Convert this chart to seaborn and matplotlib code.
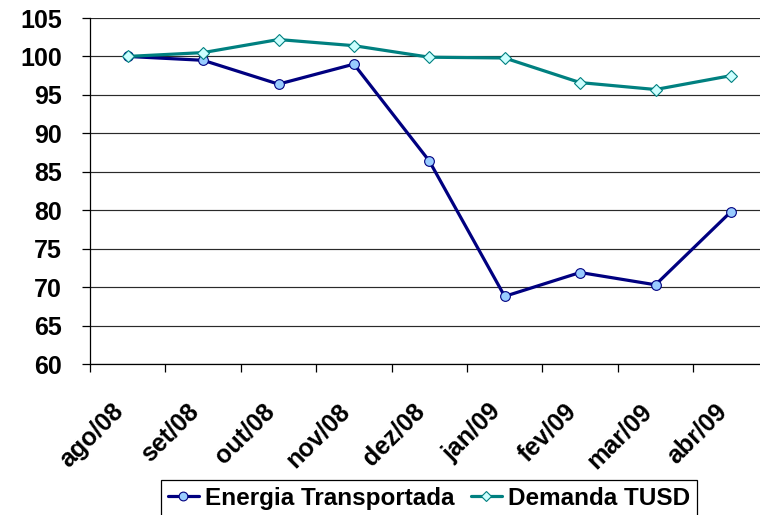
import matplotlib
matplotlib.use("Agg")
import matplotlib.pyplot as plt
import matplotlib.transforms as mtransforms
import numpy as np
import pandas as pd
import seaborn as sns

# ---- data ----
categories = ["ago/08", "set/08", "out/08", "nov/08", "dez/08",
              "jan/09", "fev/09", "mar/09", "abr/09"]
energia = [100.0, 99.5, 96.4, 99.0, 86.4, 68.8, 71.9, 70.3, 79.8]
demanda = [100.0, 100.5, 102.2, 101.4, 99.9, 99.8, 96.6, 95.7, 97.5]
series_names = ["Energia Transportada", "Demanda TUSD"]
yticks = [60, 65, 70, 75, 80, 85, 90, 95, 100, 105]

sns.set_theme(style="white")
plt.rcParams["font.family"] = ["Liberation Sans", "DejaVu Sans"]
plt.rcParams["font.weight"] = "bold"
plt.rcParams["text.color"] = "black"
plt.rcParams["xtick.color"] = "black"
plt.rcParams["ytick.color"] = "black"
plt.rcParams["xtick.labelcolor"] = "black"
plt.rcParams["ytick.labelcolor"] = "black"

W, H = 760, 515
fig = plt.figure(figsize=(W / 100, H / 100), dpi=100)
ax = fig.add_axes([90 / W, 1 - 364 / H, 678.6 / W, (364 - 18) / H])

pos = np.arange(len(categories))
df = pd.DataFrame({"pos": pos, "cat": categories,
                   series_names[0]: energia, series_names[1]: demanda})

sns.lineplot(data=df, x="pos", y=series_names[0], ax=ax, sort=False,
             color="#000080", linewidth=2.3, marker="o", markersize=7,
             markerfacecolor="#99CCFF", markeredgecolor="#000080",
             markeredgewidth=0.8, label=series_names[0], zorder=3)
sns.lineplot(data=df, x="pos", y=series_names[1], ax=ax, sort=False,
             color="#008080", linewidth=2.3, marker="D", markersize=6,
             markerfacecolor="#CCFFFF", markeredgecolor="#008080",
             markeredgewidth=0.8, label=series_names[1], zorder=4)

ax.set_xlim(-0.5, len(categories) - 0.5)
ax.set_ylim(yticks[0], yticks[-1])
ax.set_yticks(yticks)
ax.set_xlabel("")
ax.set_ylabel("")

# grid lines
ax.yaxis.grid(True, color="#2a2a2a", linewidth=0.85)
ax.xaxis.grid(False)
ax.set_axisbelow(True)

for s in ["top", "right"]:
    ax.spines[s].set_visible(False)
for s in ["left", "bottom"]:
    ax.spines[s].set_color("black")
    ax.spines[s].set_linewidth(0.9)

# x ticks: marks at category boundaries, labels at centres
ax.set_xticks(pos)
ax.set_xticklabels(categories)
ax.set_xticks(np.arange(-0.5, len(categories), 1.0), minor=True)
ax.tick_params(axis="x", which="major", length=0, pad=31.5,
               labelsize=18, labelcolor="black")
ax.tick_params(axis="x", which="minor", length=6, width=0.9,
               color="black", direction="out", bottom=True)
ax.tick_params(axis="y", which="major", length=6, width=0.9,
               color="black", direction="out", left=True, pad=14,
               labelsize=18, labelcolor="black")
offset = mtransforms.ScaledTranslation(-8 / 100, 0, fig.dpi_scale_trans)
for lab in ax.get_xticklabels():
    lab.set_rotation(45)
    lab.set_ha("right")
    lab.set_va("center")
    lab.set_rotation_mode("anchor")
    lab.set_fontweight("bold")
    lab.set_transform(lab.get_transform() + offset)
for lab in ax.get_yticklabels():
    lab.set_fontweight("bold")

handles, labels = ax.get_legend_handles_labels()
if ax.get_legend() is not None:
    ax.get_legend().remove()
leg = fig.legend(handles, labels, loc="center",
                 bbox_to_anchor=(429 / W, 1 - 498.5 / H), ncol=2,
                 frameon=True, fancybox=False, shadow=False,
                 edgecolor="black", framealpha=1,
                 prop={"size": 17.5, "weight": "bold"},
                 handlelength=1.25, handletextpad=0.25,
                 columnspacing=0.7, borderpad=0.3, markerscale=0.9,
                 borderaxespad=0)
leg.get_frame().set_linewidth(0.9)
for t in leg.get_texts():
    t.set_color("black")

fig.savefig("out.png", dpi=100)
